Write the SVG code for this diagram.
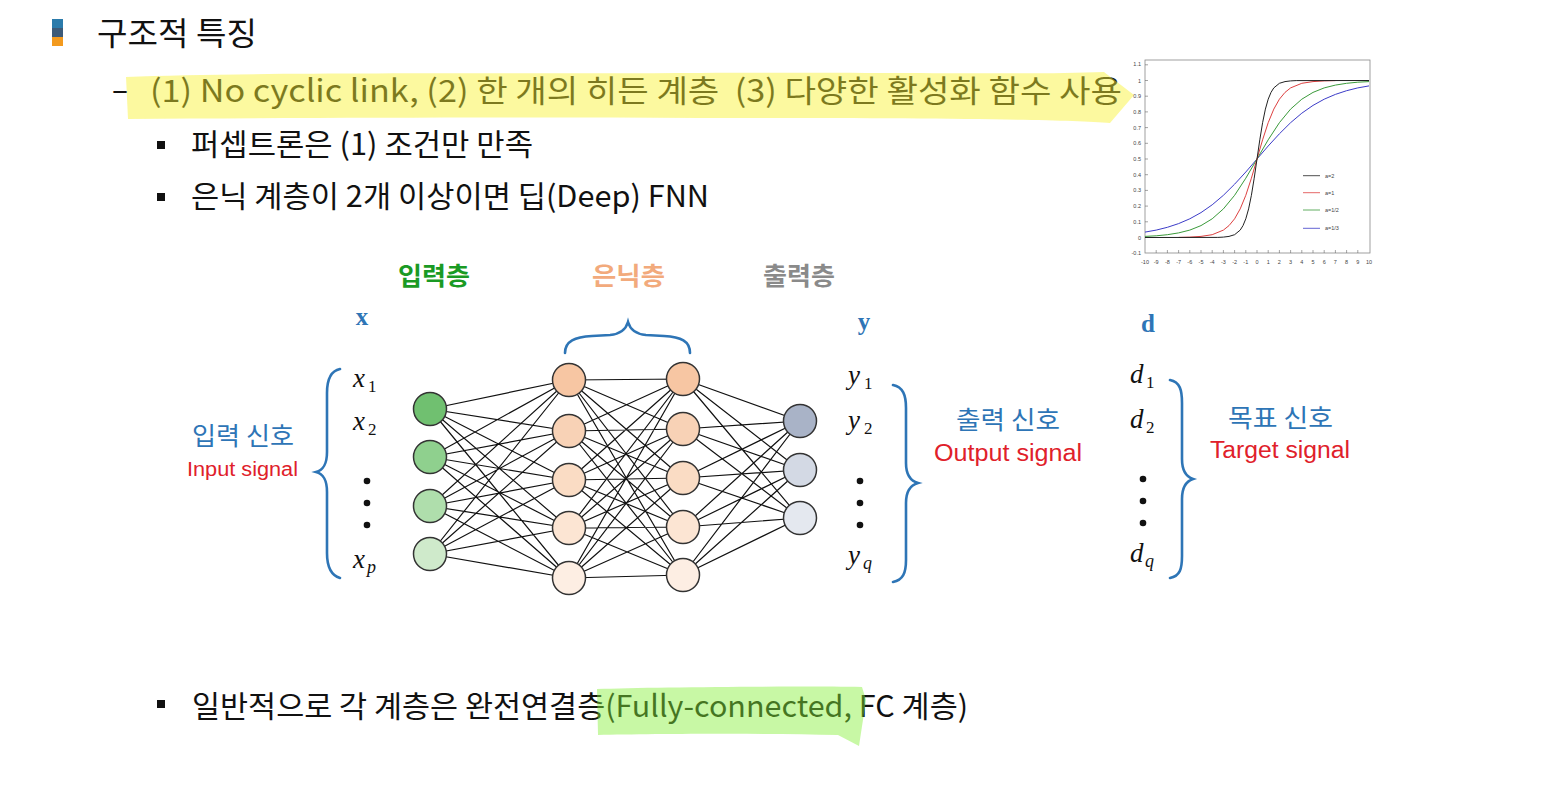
<svg xmlns="http://www.w3.org/2000/svg" width="1561" height="802" viewBox="0 0 1561 802">
<style>
.ko{font-family:"Noto Sans CJK KR","Noto Sans",sans-serif;}
.en{font-family:"Liberation Sans","Noto Sans",sans-serif;}
.dark{fill:#111;}
.lay{font-family:"Noto Sans CJK KR",sans-serif;font-weight:bold;font-size:25px;}
.blue{fill:#2e75b6;}
.red{fill:#e0202a;}
.math{font-family:"Liberation Serif","DejaVu Serif",serif;font-style:italic;font-size:27px;fill:#111;}
.sub{font-family:"Liberation Serif","DejaVu Serif",serif;font-size:17px;fill:#111;}
.subi{font-family:"Liberation Serif","DejaVu Serif",serif;font-style:italic;font-size:18px;fill:#111;}
.vec{font-family:"Liberation Serif","DejaVu Serif",serif;font-weight:bold;font-size:25px;fill:#2e75b6;text-anchor:middle;}
.brace{fill:none;stroke:#2e75b6;stroke-width:2.6;stroke-linecap:round;}
.node{stroke:#333;stroke-width:1.5;}
.edge{fill:none;stroke:#111;stroke-width:1.2;}
.tick{font-family:"Liberation Sans",sans-serif;font-size:5.5px;fill:#444;}
.curve{fill:none;stroke-width:1;}
</style>
<rect width="1561" height="802" fill="#fff"/>

<g id="title">
<rect x="52" y="19" width="11" height="9" fill="#2b7bab"/>
<rect x="52" y="28" width="11" height="9" fill="#3c5a78"/>
<rect x="52" y="37" width="11" height="9" fill="#f39a1e"/>
<text class="ko dark" x="97" y="45" font-size="32" textLength="160" lengthAdjust="spacingAndGlyphs">구조적 특징</text>
</g>

<g id="line2">
<text class="ko dark" x="112" y="100" font-size="30">–</text>
<text class="ko" fill="#1c1c1c" x="150" y="102" font-size="31" xml:space="preserve" textLength="972" lengthAdjust="spacingAndGlyphs">(1) No cyclic link, (2) 한 개의 히든 계층  (3) 다양한 활성화 함수 사용</text>
<path d="M126,77 C250,72 500,74 700,73 C900,72 1030,75 1104,72 L1134,95 L1110,123 C1060,119 900,118 700,118 C500,117 300,118 128,119 Z" fill="#f8f125" fill-opacity="0.44"/>
</g>

<g id="bullets">
<rect x="157" y="141" width="8" height="8" fill="#111"/>
<text class="ko dark" x="191" y="155" font-size="30" textLength="342" lengthAdjust="spacingAndGlyphs">퍼셉트론은 (1) 조건만 만족</text>
<rect x="157" y="193" width="8" height="8" fill="#111"/>
<text class="ko dark" x="191" y="207" font-size="30" textLength="518" lengthAdjust="spacingAndGlyphs">은닉 계층이 2개 이상이면 딥(Deep) FNN</text>
<rect x="157" y="700" width="8" height="8" fill="#111"/>
<text class="ko dark" x="192" y="717" font-size="30" textLength="776" lengthAdjust="spacingAndGlyphs">일반적으로 각 계층은 완전연결층(Fully-connected, FC 계층)</text>
<path d="M597,689 C650,687 800,686 862,687 L866,700 L859,746 L838,735 C760,733 650,734 598,735 Z" fill="#85f038" fill-opacity="0.45"/>
</g>

<g id="chart">
<rect x="1145" y="60" width="225" height="193" fill="#fff" stroke="#888" stroke-width="0.8"/>
<g class="tick" text-anchor="end">
<text x="1141" y="66">1.1</text>
<text x="1141" y="82.5">1</text>
<text x="1141" y="98">0.9</text>
<text x="1141" y="114">0.8</text>
<text x="1141" y="129.5">0.7</text>
<text x="1141" y="145">0.6</text>
<text x="1141" y="161">0.5</text>
<text x="1141" y="176.5">0.4</text>
<text x="1141" y="192">0.3</text>
<text x="1141" y="208">0.2</text>
<text x="1141" y="223.5">0.1</text>
<text x="1141" y="239.5">0</text>
<text x="1141" y="255">-0.1</text>
</g>
<g class="tick" text-anchor="middle">
<text x="1145" y="264">-10</text><text x="1156.2" y="264">-9</text><text x="1167.4" y="264">-8</text><text x="1178.6" y="264">-7</text><text x="1189.8" y="264">-6</text><text x="1201" y="264">-5</text><text x="1212.2" y="264">-4</text><text x="1223.4" y="264">-3</text><text x="1234.6" y="264">-2</text><text x="1245.8" y="264">-1</text><text x="1257" y="264">0</text><text x="1268.2" y="264">1</text><text x="1279.4" y="264">2</text><text x="1290.6" y="264">3</text><text x="1301.8" y="264">4</text><text x="1313" y="264">5</text><text x="1324.2" y="264">6</text><text x="1335.4" y="264">7</text><text x="1346.6" y="264">8</text><text x="1357.8" y="264">9</text><text x="1369" y="264">10</text>
</g>
<path d="M1145,64.8h3M1145,80.5h3M1145,96.2h3M1145,111.9h3M1145,127.6h3M1145,143.3h3M1145,159h3M1145,174.7h3M1145,190.4h3M1145,206.1h3M1145,221.8h3M1145,237.5h3M1156.2,253v-3M1167.4,253v-3M1178.6,253v-3M1189.8,253v-3M1201,253v-3M1212.2,253v-3M1223.4,253v-3M1234.6,253v-3M1245.8,253v-3M1257,253v-3M1268.2,253v-3M1279.4,253v-3M1290.6,253v-3M1301.8,253v-3M1313,253v-3M1324.2,253v-3M1335.4,253v-3M1346.6,253v-3M1357.8,253v-3" stroke="#666" stroke-width="0.6" fill="none"/>
<polyline class="curve" stroke="#3c3cc8" points="1145,232.1 1156.2,230.1 1167.4,227.3 1178.6,223.6 1189.8,218.8 1201,212.6 1212.2,204.8 1223.4,195.3 1234.6,184.2 1245.8,172 1257,159 1268.2,146 1279.4,133.8 1290.6,122.7 1301.8,113.2 1313,105.4 1324.2,99.2 1335.4,94.4 1346.6,90.7 1357.8,87.9 1369,85.9"/>
<polyline class="curve" stroke="#3a9a3a" points="1145,236.4 1156.2,235.8 1167.4,234.7 1178.6,232.9 1189.8,230.1 1201,225.6 1212.2,218.8 1223.4,208.9 1234.6,195.3 1245.8,178.2 1257,159 1268.2,139.8 1279.4,122.7 1290.6,109.1 1301.8,99.2 1313,92.4 1324.2,87.9 1335.4,85.1 1346.6,83.3 1357.8,82.2 1369,81.6"/>
<polyline class="curve" stroke="#dd4040" points="1178.6,237.4 1189.8,237.1 1201,236.4 1212.2,234.7 1223.4,230.1 1229,225.6 1234.6,218.8 1240.2,208.9 1245.8,195.3 1251.4,178.2 1257,159 1262.6,139.8 1268.2,122.7 1273.8,109.1 1279.4,99.2 1285,92.4 1290.6,87.9 1301.8,83.3 1313,81.6 1324.2,80.9 1335.4,80.6"/>
<polyline class="curve" stroke="#222" points="1145,237.5 1217.8,237.4 1223.4,237.1 1229,236.4 1234.6,234.7 1240.2,230.1 1243,225.6 1245.8,218.8 1248.6,208.9 1251.4,195.3 1254.2,178.2 1257,159 1259.8,139.8 1262.6,122.7 1265.4,109.1 1268.2,99.2 1271,92.4 1273.8,87.9 1279.4,83.3 1285,81.6 1290.6,80.9 1296.2,80.6 1369,80.5"/>
<path d="M1303,175.7h17" stroke="#222" stroke-width="0.8"/>
<path d="M1303,192.7h17" stroke="#dd4040" stroke-width="0.8"/>
<path d="M1303,210h17" stroke="#3a9a3a" stroke-width="0.8"/>
<path d="M1303,228.3h17" stroke="#3c3cc8" stroke-width="0.8"/>
<text class="tick" x="1325" y="177.5">a=2</text>
<text class="tick" x="1325" y="194.5">a=1</text>
<text class="tick" x="1325" y="212">a=1/2</text>
<text class="tick" x="1325" y="230">a=1/3</text>
</g>

<g id="layer-labels">
<text class="lay" fill="#1a9a24" x="398" y="285" textLength="72" lengthAdjust="spacingAndGlyphs">입력층</text>
<text class="lay" fill="#f2aa7c" x="592" y="285" textLength="73" lengthAdjust="spacingAndGlyphs">은닉층</text>
<text class="lay" fill="#8a8a8a" x="763" y="285" textLength="72" lengthAdjust="spacingAndGlyphs">출력층</text>
</g>

<g id="connectors">
<path class="edge" d="M430 409L569 380M430 409L569 431M430 409L569 480M430 409L569 528M430 409L569 578M430 457L569 380M430 457L569 431M430 457L569 480M430 457L569 528M430 457L569 578M430 506L569 380M430 506L569 431M430 506L569 480M430 506L569 528M430 506L569 578M430 554L569 380M430 554L569 431M430 554L569 480M430 554L569 528M430 554L569 578"/>
<path class="edge" d="M569 380L683 379M569 380L683 429M569 380L683 478M569 380L683 527M569 380L683 575M569 431L683 379M569 431L683 429M569 431L683 478M569 431L683 527M569 431L683 575M569 480L683 379M569 480L683 429M569 480L683 478M569 480L683 527M569 480L683 575M569 528L683 379M569 528L683 429M569 528L683 478M569 528L683 527M569 528L683 575M569 578L683 379M569 578L683 429M569 578L683 478M569 578L683 527M569 578L683 575"/>
<path class="edge" d="M683 379L800 421M683 379L800 470M683 379L800 518M683 429L800 421M683 429L800 470M683 429L800 518M683 478L800 421M683 478L800 470M683 478L800 518M683 527L800 421M683 527L800 470M683 527L800 518M683 575L800 421M683 575L800 470M683 575L800 518"/>
</g>

<g id="input-layer">
<circle class="node" cx="430" cy="409" r="16.5" fill="#70c070"/>
<circle class="node" cx="430" cy="457" r="16.5" fill="#8fd08e"/>
<circle class="node" cx="430" cy="506" r="16.5" fill="#afdeac"/>
<circle class="node" cx="430" cy="554" r="16.5" fill="#cfeacb"/>
</g>
<g id="hidden-layer-1">
<circle class="node" cx="569" cy="380" r="16.5" fill="#f7c6a3"/>
<circle class="node" cx="569" cy="431" r="16.5" fill="#f8d2b6"/>
<circle class="node" cx="569" cy="480" r="16.5" fill="#fadcc4"/>
<circle class="node" cx="569" cy="528" r="16.5" fill="#fce5d3"/>
<circle class="node" cx="569" cy="578" r="16.5" fill="#fdeee3"/>
</g>
<g id="hidden-layer-2">
<circle class="node" cx="683" cy="379" r="16.5" fill="#f7c6a3"/>
<circle class="node" cx="683" cy="429" r="16.5" fill="#f8d2b6"/>
<circle class="node" cx="683" cy="478" r="16.5" fill="#fadcc4"/>
<circle class="node" cx="683" cy="527" r="16.5" fill="#fce5d3"/>
<circle class="node" cx="683" cy="575" r="16.5" fill="#fdeee3"/>
</g>
<g id="output-layer">
<circle class="node" cx="800" cy="421" r="16.5" fill="#a9b3c7"/>
<circle class="node" cx="800" cy="470" r="16.5" fill="#d3d9e4"/>
<circle class="node" cx="800" cy="518" r="16.5" fill="#e4e8ef"/>
</g>

<g id="hidden-brace">
<path class="brace" d="M565,353 C565,341 575,337 592,336 L610,335 C621,334 626,329 628,322 C630,329 635,334 646,335 L664,336 C681,337 690,341 690,353"/>
</g>

<g id="input-signal">
<text class="vec" x="362" y="325">x</text>
<text class="math" x="353" y="387">x</text><text class="sub" x="368" y="392">1</text>
<text class="math" x="353" y="430">x</text><text class="sub" x="368" y="435">2</text>
<circle cx="367" cy="481" r="3.3" fill="#111"/>
<circle cx="367" cy="503" r="3.3" fill="#111"/>
<circle cx="367" cy="525" r="3.3" fill="#111"/>
<text class="math" x="353" y="568">x</text><text class="subi" x="367" y="573">p</text>
<path class="brace" d="M340,369 C330,371 327,380 327,393 L327,452 C327,465 323,470 316,472 C323,474 327,479 327,492 L327,553 C327,566 330,575 340,578"/>
<text class="ko blue" x="192" y="445" font-size="25" textLength="102" lengthAdjust="spacingAndGlyphs">입력 신호</text>
<text class="en red" x="187" y="476" font-size="20" textLength="111" lengthAdjust="spacingAndGlyphs">Input signal</text>
</g>

<g id="output-signal">
<text class="vec" x="864" y="330">y</text>
<text class="math" x="848" y="384">y</text><text class="sub" x="864" y="389">1</text>
<text class="math" x="848" y="429">y</text><text class="sub" x="864" y="434">2</text>
<circle cx="860" cy="481" r="3.3" fill="#111"/>
<circle cx="860" cy="503" r="3.3" fill="#111"/>
<circle cx="860" cy="525" r="3.3" fill="#111"/>
<text class="math" x="848" y="564">y</text><text class="subi" x="863" y="569">q</text>
<path class="brace" d="M893,385 C903,387 906,395 906,408 L906,463 C906,476 911,481 918,483 C911,485 906,490 906,503 L906,560 C906,573 903,580 893,582"/>
<text class="ko blue" x="956" y="429" font-size="25" textLength="104" lengthAdjust="spacingAndGlyphs">출력 신호</text>
<text class="en red" x="934" y="461" font-size="23" textLength="148" lengthAdjust="spacingAndGlyphs">Output signal</text>
</g>

<g id="target-signal">
<text class="vec" x="1148" y="332">d</text>
<text class="math" x="1130" y="383">d</text><text class="sub" x="1146" y="388">1</text>
<text class="math" x="1130" y="428">d</text><text class="sub" x="1146" y="433">2</text>
<circle cx="1143" cy="479" r="3.3" fill="#111"/>
<circle cx="1143" cy="501" r="3.3" fill="#111"/>
<circle cx="1143" cy="523" r="3.3" fill="#111"/>
<text class="math" x="1130" y="562">d</text><text class="subi" x="1145" y="567">q</text>
<path class="brace" d="M1170,380 C1180,382 1182,390 1182,403 L1182,459 C1182,472 1187,477 1193,479 C1187,481 1182,486 1182,499 L1182,556 C1182,569 1180,576 1170,578"/>
<text class="ko blue" x="1228" y="427" font-size="25" textLength="105" lengthAdjust="spacingAndGlyphs">목표 신호</text>
<text class="en red" x="1210" y="458" font-size="23" textLength="140" lengthAdjust="spacingAndGlyphs">Target signal</text>
</g>
</svg>
